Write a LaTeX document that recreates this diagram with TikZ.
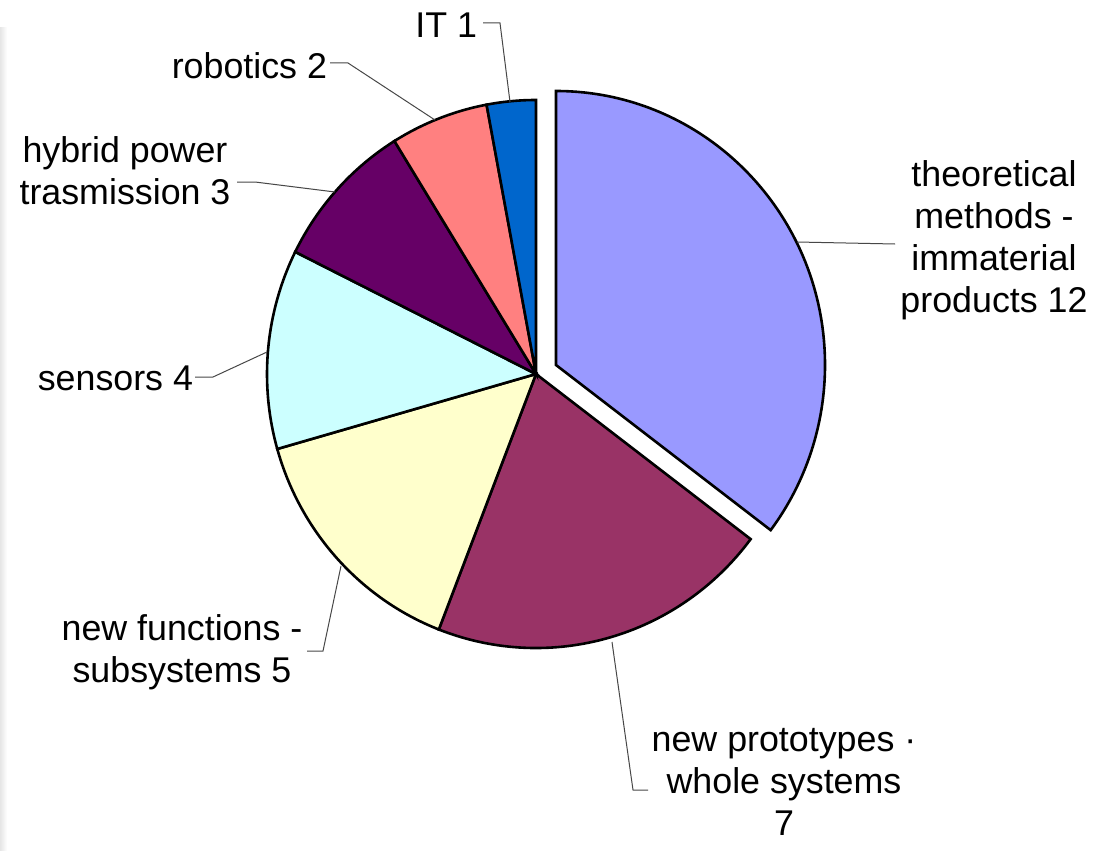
\documentclass[tikz,border=0pt]{standalone}
\usepackage{fontspec}
\setmainfont{Liberation Sans}
\definecolor{cTheo}{HTML}{9999FF}
\definecolor{cProt}{HTML}{993366}
\definecolor{cFunc}{HTML}{FFFFCC}
\definecolor{cSens}{HTML}{CCFFFF}
\definecolor{cHyb}{HTML}{660066}
\definecolor{cRob}{HTML}{FF8080}
\definecolor{cIT}{HTML}{0066CC}
\tikzset{
  slice/.style={draw=black, line width=2.6pt, line join=miter},
  leader/.style={draw=black!72, line width=1pt},
  lbl/.style={inner sep=0pt, outer sep=0pt, align=center, font=\fontsize{35.8}{41.7}\selectfont},
}
\newcommand{\pieslice}[5]{% center, start visual angle, end visual angle, colour, name
  \filldraw[slice, fill=#4] (#1) -- ++({-(#2)}:269 and 274)
    arc[start angle={-(#2)}, end angle={-(#3)}, x radius=269, y radius=274] -- cycle;
}
\begin{document}
\begin{tikzpicture}[x=1pt, y=-1pt]
\useasboundingbox (0,0) rectangle (1108,851);
\fill[white] (0,0) rectangle (1108,851);
\shade[left color=black!10, right color=white] (0,28) rectangle (7,851);
\coordinate (C) at (536,374);
\coordinate (E) at (556,365);
% slices
\pieslice{E}{90}{-37.06}{cTheo}{theo}
\pieslice{C}{-37.06}{-111.18}{cProt}{prot}
\pieslice{C}{-111.18}{-164.12}{cFunc}{func}
\pieslice{C}{-164.12}{-206.47}{cSens}{sens}
\pieslice{C}{-206.47}{-238.24}{cHyb}{hyb}
\pieslice{C}{-238.24}{-259.41}{cRob}{rob}
\pieslice{C}{-259.41}{-270}{cIT}{it}
% labels (base anchor = baseline of the last line)
\node[lbl, anchor=base east] (lIT) at (477,38) {IT 1};
\node[lbl, anchor=base east] (lRob) at (327,78) {robotics 2};
\node[lbl, anchor=base] (lHyb) at (125,204) {hybrid power\\trasmission 3};
\node[lbl, anchor=base east] (lSens) at (193,390) {sensors 4};
\node[lbl, anchor=base] (lTheo) at (994,312) {theoretical\\methods -\\immaterial\\products 12};
\node[lbl, anchor=base] (lFunc) at (182,682) {new functions -\\subsystems 5};
\node[lbl, anchor=base] (lProt) at (784,835) {new prototypes ·\\whole systems\\7};
% leader lines
\coordinate (aIT) at (483,23); \coordinate (bIT) at (500,23); \coordinate (pIT) at (510,102);
\coordinate (aRob) at (330,63); \coordinate (bRob) at (348,63); \coordinate (pRob) at (435,120);
\coordinate (aHyb) at (237,182); \coordinate (bHyb) at (255,182); \coordinate (pHyb) at (335,192);
\coordinate (aSens) at (195,377); \coordinate (bSens) at (213,377); \coordinate (pSens) at (267,352);
\coordinate (aTheo) at (895,244); \coordinate (pTheo) at (797,242);
\coordinate (aFunc) at (307,651); \coordinate (bFunc) at (323,651); \coordinate (pFunc) at (341,566);
\coordinate (aProt) at (648,790); \coordinate (bProt) at (633,790); \coordinate (pProt) at (612,642);
\draw[leader] (aIT) -- (bIT) -- (pIT);
\draw[leader] (aRob) -- (bRob) -- (pRob);
\draw[leader] (aHyb) -- (bHyb) -- (pHyb);
\draw[leader] (aSens) -- (bSens) -- (pSens);
\draw[leader] (aTheo) -- (pTheo);
\draw[leader] (aFunc) -- (bFunc) -- (pFunc);
\draw[leader] (aProt) -- (bProt) -- (pProt);
\end{tikzpicture}
\end{document}
